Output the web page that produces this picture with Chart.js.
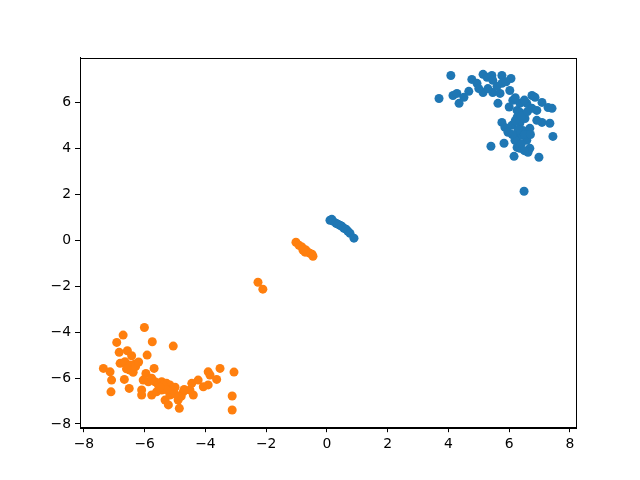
<!DOCTYPE html>
<html>
<head>
<meta charset="utf-8">
<script src="https://cdn.jsdelivr.net/npm/chart.js@4/dist/chart.umd.min.js"></script>
<style>
    html, body { margin: 0; padding: 0; background: #fff; }
    #wrap { width: 640px; height: 480px; }
</style>
</head>
<body>
<div id="wrap"><canvas id="scatter" width="640" height="480"></canvas></div>
<script>
// blue cluster (upper right + small streak near origin)
const blueX = [4.08, 3.69, 4.15, 4.28, 4.35, 4.51, 4.67, 4.77, 4.94, 5.14, 5.14, 5.27, 5.43, 5.46, 5.46,
    5.76, 5.76, 5.70, 6.06, 6.02, 5.63, 6.12, 6.26, 6.35, 6.75, 6.85, 7.08, 7.28, 7.41, 6.58, 6.75, 6.91,
    6.91, 7.08, 7.34, 5.76, 5.86, 5.96, 6.26, 6.35, 6.45, 6.26, 6.42, 6.58, 7.44, 5.40, 5.83, 6.26, 6.35,
    6.68, 6.16, 6.62, 6.98, 6.49, 6.09, 6.52, 6.19, 6.68, 6.35,
    6.20, 6.40, 6.30, 6.50, 6.10, 6.40, 6.60, 6.00, 5.30, 5.60, 5.90, 5.00, 6.20, 6.50, 6.70, 6.50,
    0.10, 0.16, 0.20, 0.30, 0.36, 0.43, 0.49, 0.56, 0.63, 0.69, 0.76, 0.89];
const blueY = [7.17, 6.17, 6.30, 6.39, 5.96, 6.22, 6.48, 7.00, 6.83, 7.22, 6.43, 7.09, 7.17, 6.96, 6.43,
    7.17, 6.83, 6.39, 7.04, 6.52, 5.96, 6.09, 5.65, 5.96, 6.30, 6.22, 6.00, 5.78, 5.74, 5.96, 5.74, 5.65,
    5.22, 5.13, 5.09, 5.13, 4.91, 4.70, 5.35, 5.09, 4.78, 4.48, 4.57, 4.35, 4.52, 4.09, 4.22, 4.04, 4.00,
    4.00, 3.65, 3.83, 3.61, 2.13, 5.00, 5.30, 4.35, 4.87, 5.57,
    5.20, 5.40, 4.80, 4.60, 4.60, 4.20, 5.60, 5.80, 6.60, 6.70, 6.90, 6.60, 6.20, 6.10, 4.60, 3.90,
    0.87, 0.91, 0.83, 0.74, 0.70, 0.65, 0.61, 0.52, 0.48, 0.39, 0.30, 0.09];

// orange cluster (lower left + streak)
const orangeX = [-6.01, -6.71, -6.92, -5.75, -5.06, -6.84, -6.57, -6.43, -5.92, -6.81, -6.65, -6.49, -6.32,
    -7.36, -7.14, -7.09, -6.67, -6.49, -6.38, -7.11, -6.51, -5.69, -5.96, -6.05, -5.88, -6.10, -6.10, -5.77,
    -5.66, -5.55, -5.44, -5.28, -5.17, -5.77, -5.61, -5.44, -5.33, -5.22, -5.17, -4.90, -4.86, -4.73, -4.51,
    -4.40, -4.45, -4.24, -4.07, -3.91, -3.91, -3.85, -3.63, -3.52, -3.06, -3.12, -3.12, -5.00, -5.10, -4.80,
    -5.40, -5.30, -5.50, -5.00, -4.70, -6.30, -6.20, -6.60,
    -2.27, -2.11,
    -1.02, -0.92, -0.82, -0.76, -0.69, -0.63, -0.56, -0.49, -0.46, -0.72, -0.79];
const orangeY = [-3.80, -4.13, -4.45, -4.42, -4.61, -4.88, -4.81, -5.03, -5.00, -5.36, -5.29, -5.43, -5.39,
    -5.58, -5.73, -6.09, -6.06, -5.65, -5.75, -6.60, -6.45, -5.58, -5.80, -6.09, -6.16, -6.52, -6.74, -6.01,
    -6.16, -6.30, -6.16, -6.23, -6.30, -6.74, -6.60, -6.52, -6.96, -7.17, -6.74, -6.96, -7.32, -6.60, -6.52,
    -6.74, -6.23, -6.09, -6.38, -6.30, -5.73, -5.87, -6.06, -5.58, -5.74, -6.78, -7.39, -6.40, -6.50, -6.80,
    -6.30, -6.50, -6.40, -6.70, -6.50, -5.50, -5.30, -5.60,
    -1.83, -2.13,
    -0.09, -0.22, -0.30, -0.39, -0.43, -0.52, -0.57, -0.61, -0.70, -0.52, -0.43];

const xTicks = [-8, -6, -4, -2, 0, 2, 4, 6, 8];
const yTicks = [-8, -6, -4, -2, 0, 2, 4, 6];

function toPoints(xs, ys) {
    return xs.map((x, i) => ({ x: x, y: ys[i] }));
}

// matplotlib uses a real minus sign
function fmt(v) {
    return v < 0 ? '\u2212' + Math.abs(v) : String(v);
}

// frame round the plot area (top and right spines)
const framePlugin = {
    id: 'frame',
    afterDraw(chart) {
        const a = chart.chartArea;
        const ctx = chart.ctx;
        ctx.save();
        ctx.strokeStyle = '#000';
        ctx.lineWidth = 1;
        ctx.strokeRect(Math.round(a.left) + 0.5, Math.round(a.top) + 0.5,
            Math.round(a.right - a.left), Math.round(a.bottom - a.top));
        ctx.restore();
    }
};

Chart.defaults.font.family = 'DejaVu Sans';
Chart.defaults.font.size = 13.9;
Chart.defaults.color = '#000';

const ctx = document.getElementById('scatter').getContext('2d');
new Chart(ctx, {
    type: 'scatter',
    data: {
        datasets: [{
            data: toPoints(blueX, blueY),
            backgroundColor: '#1f77b4',
            borderWidth: 0,
            pointRadius: 4.5,
            order: 2
        }, {
            data: toPoints(orangeX, orangeY),
            backgroundColor: '#ff7f0e',
            borderWidth: 0,
            pointRadius: 4.5,
            order: 1
        }]
    },
    options: {
        responsive: false,
        animation: false,
        layout: { padding: { top: 57.6, right: 64, left: 0, bottom: 0 } },
        plugins: {
            legend: { display: false },
            tooltip: { enabled: false }
        },
        scales: {
            x: {
                type: 'linear',
                min: -8.13,
                max: 8.2,
                afterBuildTicks: s => { s.ticks = xTicks.map(v => ({ value: v })); },
                afterFit: s => { s.height = 52.8; },
                ticks: { callback: v => fmt(v), padding: 4, maxRotation: 0 },
                grid: { drawOnChartArea: false, drawTicks: true, tickLength: 5, color: '#000' },
                border: { display: true, color: '#000' }
            },
            y: {
                type: 'linear',
                min: -8.14,
                max: 7.95,
                afterBuildTicks: s => { s.ticks = yTicks.map(v => ({ value: v })); },
                afterFit: s => { s.width = 80; },
                ticks: { callback: v => fmt(v), padding: 4 },
                grid: { drawOnChartArea: false, drawTicks: true, tickLength: 5, color: '#000' },
                border: { display: true, color: '#000' }
            }
        }
    },
    plugins: [framePlugin]
});
</script>
</body>
</html>
